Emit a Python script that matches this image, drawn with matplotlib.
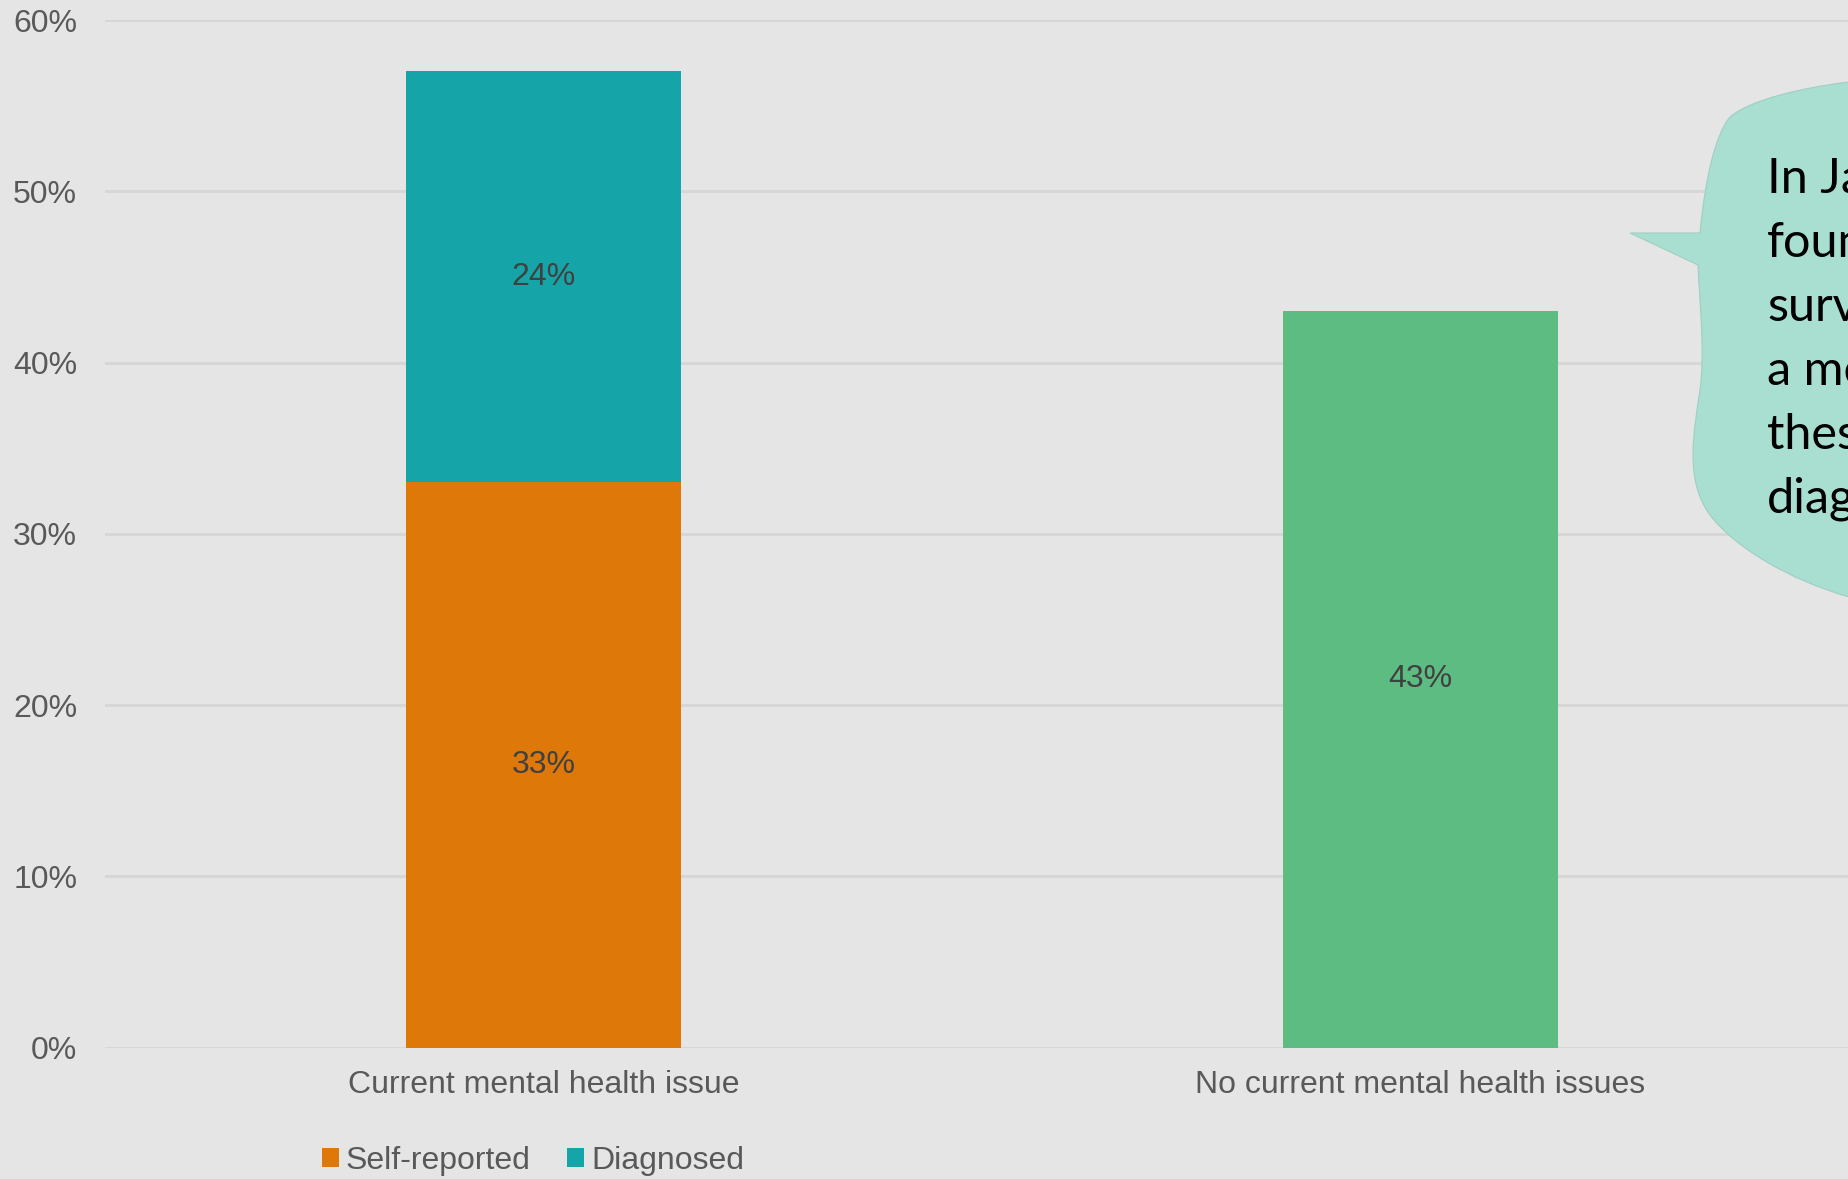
import matplotlib
matplotlib.use("Agg")
import matplotlib.pyplot as plt
from matplotlib.patches import Patch, PathPatch
from matplotlib.path import Path
from matplotlib.ticker import FuncFormatter

# ---- data ----
categories = ["Current mental health issue", "No current mental health issues"]
self_reported = [33, 0]
diagnosed = [24, 0]
no_issue = [0, 43]
y_ticks = [0, 10, 20, 30, 40, 50, 60]

W, H = 1849, 1179
BG = "#E5E5E5"
ORANGE = "#DE7808"
TEAL = "#15A5A8"
GREEN = "#5CBC82"
BUBBLE = "#A8DFD1"
TICK_C = "#595959"
LABEL_C = "#404040"

plt.rcParams["font.family"] = ["Liberation Sans", "DejaVu Sans"]

fig = plt.figure(figsize=(W / 100, H / 100), dpi=100, facecolor=BG)
ax = fig.add_axes([105 / W, 131.3 / H, 1754 / W, 1027.7 / H], facecolor=BG)

x = list(range(len(categories)))
bw = 275 / 877

ax.bar(x, self_reported, width=bw, color=ORANGE, zorder=3)
ax.bar(x, diagnosed, width=bw, bottom=self_reported, color=TEAL, zorder=3)
ax.bar(x, no_issue, width=bw, color=GREEN, zorder=3)

# value labels in the middle of each segment
LBL = 23
for i in x:
    if self_reported[i]:
        ax.text(i, self_reported[i] / 2, f"{self_reported[i]}%", ha="center", va="center",
                fontsize=LBL, color=LABEL_C, zorder=4)
    if diagnosed[i]:
        ax.text(i, self_reported[i] + diagnosed[i] / 2, f"{diagnosed[i]}%", ha="center",
                va="center", fontsize=LBL, color=LABEL_C, zorder=4)
    if no_issue[i]:
        ax.text(i, no_issue[i] / 2, f"{no_issue[i]}%", ha="center", va="center",
                fontsize=LBL, color=LABEL_C, zorder=4)

ax.set_xlim(-0.5, 1.5)
ax.set_ylim(0, 60)
ax.set_yticks(y_ticks)
ax.yaxis.set_major_formatter(FuncFormatter(lambda v, p: f"{v:.0f}%"))
ax.set_xticks(x)
ax.set_xticklabels(categories)
ax.tick_params(axis="y", length=0, pad=20, labelsize=23, labelcolor=TICK_C)
ax.tick_params(axis="x", length=0, pad=16, labelsize=23, labelcolor=TICK_C)
ax.grid(axis="y", color="#D6D6D6", linewidth=2, zorder=0)
for s in ax.spines.values():
    s.set_visible(False)

# legend below the axis
handles = [Patch(facecolor=ORANGE, label="Self-reported"),
           Patch(facecolor=TEAL, label="Diagnosed")]
fig.legend(handles=handles, loc="center", bbox_to_anchor=(533 / W, 1 - 1161 / H),
           ncol=2, frameon=False, fontsize=23, labelcolor=TICK_C,
           handlelength=0.53, handleheight=0.53, handletextpad=0.22,
           columnspacing=1.15, borderaxespad=0, borderpad=0)

# speech bubble callout on the right edge
def f(px, py):
    return (px / W, 1 - py / H)

verts = [
    f(1849, 82),
    f(1800, 88), f(1750, 100), f(1730, 117),
    f(1715, 135), f(1705, 180), f(1700, 233),
    f(1630, 233),
    f(1698, 265),
    f(1700, 310), f(1705, 350), f(1700, 390),
    f(1694, 430), f(1684, 480), f(1710, 515),
    f(1735, 548), f(1790, 580), f(1849, 597),
    f(1900, 597),
    f(1900, 82),
    f(1849, 82),
]
codes = [Path.MOVETO,
         Path.CURVE4, Path.CURVE4, Path.CURVE4,
         Path.CURVE4, Path.CURVE4, Path.CURVE4,
         Path.LINETO,
         Path.LINETO,
         Path.CURVE4, Path.CURVE4, Path.CURVE4,
         Path.CURVE4, Path.CURVE4, Path.CURVE4,
         Path.CURVE4, Path.CURVE4, Path.CURVE4,
         Path.LINETO, Path.LINETO, Path.CLOSEPOLY]
bubble = PathPatch(Path(verts, codes), facecolor=BUBBLE, edgecolor="#9FCFC2",
                   linewidth=0.8, transform=fig.transFigure, zorder=5)
fig.add_artist(bubble)

callout_lines = ["In January", "found", "surveyed", "a mental", "these", "diagnosed"]
for k, line in enumerate(callout_lines):
    fig.text(1767 / W, 1 - (193 + k * 64) / H, line, fontsize=35,
             family=["Lato", "DejaVu Sans"], color="black", ha="left", va="baseline",
             zorder=6)

fig.savefig("out.png", dpi=100, facecolor=BG)
